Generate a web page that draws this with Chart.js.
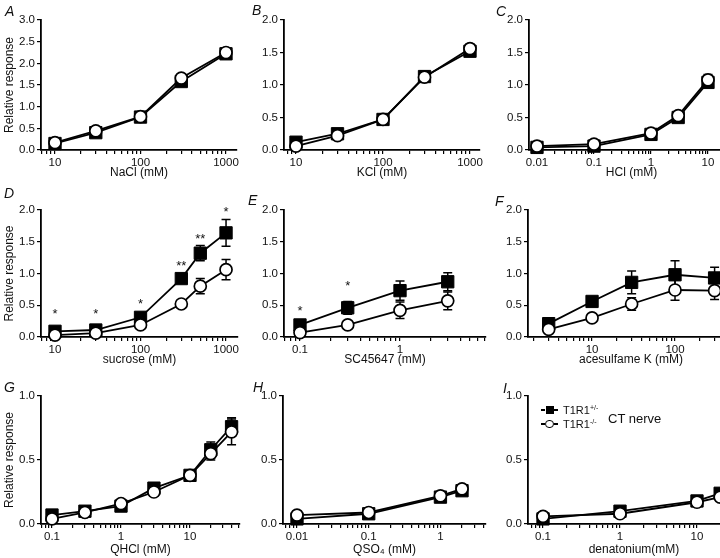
<!DOCTYPE html>
<html>
<head>
<meta charset="utf-8">
<script src="https://cdn.jsdelivr.net/npm/chart.js@4.4.1/dist/chart.umd.min.js"></script>
<style>
html,body{margin:0;padding:0;background:#fff;width:720px;height:558px;overflow:hidden;position:relative;
  font-family:"Liberation Sans",Arial,Helvetica,sans-serif;color:#111;}
canvas{position:absolute;}
.plbl{position:absolute;font-style:italic;font-size:14px;line-height:14px;white-space:nowrap;}
.abs{position:absolute;white-space:nowrap;}
.dash{position:absolute;height:1.6px;width:4px;background:#000;}
</style>
</head>
<body>
<script>
// ---------------- DATA ----------------
const seriesNames = ['T1R1+/-', 'T1R1-/-'];

// A: NaCl
const naclConc   = [10, 30, 100, 300, 1000];
const naclHet    = [0.15, 0.40, 0.76, 1.58, 2.22];
const naclHetSem = [0.04, 0.05, 0.05, 0.06, 0.10];
const naclKo     = [0.17, 0.44, 0.77, 1.66, 2.25];
const naclKoSem  = [0.04, 0.05, 0.04, 0.05, 0.10];

// B: KCl
const kclConc   = [10, 30, 100, 300, 1000];
const kclHet    = [0.12, 0.25, 0.47, 1.13, 1.52];
const kclHetSem = [0.03, 0.03, 0.04, 0.08, 0.08];
const kclKo     = [0.06, 0.22, 0.47, 1.12, 1.56];
const kclKoSem  = [0.05, 0.03, 0.04, 0.06, 0.07];

// C: HCl
const hclConc   = [0.01, 0.1, 1, 3, 10];
const hclHet    = [0.04, 0.06, 0.24, 0.50, 1.04];
const hclHetSem = [0.02, 0.02, 0.03, 0.06, 0.05];
const hclKo     = [0.06, 0.09, 0.26, 0.53, 1.08];
const hclKoSem  = [0.03, 0.04, 0.03, 0.05, 0.08];

// D: sucrose
const sucConc   = [10, 30, 100, 300, 500, 1000];
const sucHet    = [0.09, 0.11, 0.31, 0.92, 1.32, 1.64];
const sucHetSem = [0.03, 0.03, 0.05, 0.05, 0.12, 0.21];
const sucKo     = [0.03, 0.06, 0.19, 0.52, 0.80, 1.06];
const sucKoSem  = [0.03, 0.03, 0.04, 0.03, 0.12, 0.16];
const sucSigText = ['*', '*', '*', '**', '**', '*'];
const sucSigY    = [0.42, 0.41, 0.58, 1.17, 1.59, 2.03];

// E: SC45647
const scConc   = [0.1, 0.3, 1, 3];
const scHet    = [0.19, 0.46, 0.73, 0.87];
const scHetSem = [0.04, 0.10, 0.15, 0.14];
const scKo     = [0.07, 0.19, 0.42, 0.57];
const scKoSem  = [0.03, 0.04, 0.13, 0.14];
const scSigConc = [0.1, 0.3];
const scSigText = ['*', '*'];
const scSigY    = [0.47, 0.86];

// F: acesulfame K
const aceConc   = [3, 10, 30, 100, 300];
const aceHet    = [0.21, 0.56, 0.86, 0.98, 0.93];
const aceHetSem = [0.03, 0.05, 0.18, 0.22, 0.17];
const aceKo     = [0.12, 0.30, 0.52, 0.74, 0.73];
const aceKoSem  = [0.03, 0.03, 0.10, 0.16, 0.14];

// G: QHCl
const qhclConc   = [0.1, 0.3, 1, 3, 10, 20, 40];
const qhclHet    = [0.07, 0.10, 0.14, 0.28, 0.38, 0.58, 0.76];
const qhclHetSem = [0.02, 0.02, 0.02, 0.03, 0.02, 0.06, 0.07];
const qhclKo     = [0.04, 0.09, 0.16, 0.25, 0.38, 0.55, 0.72];
const qhclKoSem  = [0.03, 0.02, 0.02, 0.03, 0.03, 0.05, 0.10];

// H: QSO4
const qso4Conc   = [0.01, 0.1, 1, 2];
const qso4Het    = [0.04, 0.08, 0.21, 0.26];
const qso4HetSem = [0.02, 0.02, 0.02, 0.02];
const qso4Ko     = [0.07, 0.09, 0.22, 0.275];
const qso4KoSem  = [0.03, 0.02, 0.02, 0.02];

// I: denatonium
const denConc   = [0.1, 1, 10, 20];
const denHet    = [0.04, 0.10, 0.18, 0.24];
const denHetSem = [0.02, 0.02, 0.02, 0.02];
const denKo     = [0.06, 0.08, 0.17, 0.21];
const denKoSem  = [0.03, 0.02, 0.02, 0.02];

// tick labels
const xTicksMilli = ['10', '100', '1000'];
const xTicksHCl   = ['0.01', '0.1', '1', '10'];
const xTicksSC    = ['0.1', '1'];
const xTicksAce   = ['10', '100'];
const xTicksQHCl  = ['0.1', '1', '10'];
const xTicksQSO4  = ['0.01', '0.1', '1'];
const xTicksDen   = ['0.1', '1', '10'];
const yTicks3 = ['0.0', '0.5', '1.0', '1.5', '2.0', '2.5', '3.0'];
const yTicks2 = ['0.0', '0.5', '1.0', '1.5', '2.0'];
const yTicks1 = ['0.0', '0.5', '1.0'];

const yTitle = 'Relative response';

// ---------------- RENDERING ----------------
const FONT = '"Liberation Sans", Arial, Helvetica, sans-serif';
Chart.defaults.font.family = FONT;
Chart.defaults.color = '#111';

function logTicks(min, max) {
  const out = [];
  const e0 = Math.floor(Math.log10(min)), e1 = Math.ceil(Math.log10(max));
  for (let e = e0; e <= e1; e++) {
    for (let m = 1; m <= 9; m++) {
      const v = Number((m * Math.pow(10, e)).toPrecision(12));
      if (v >= min && v <= max) out.push({ value: v, major: m === 1 });
    }
  }
  return out;
}

function makeChart(p) {
  const yW = 40, padTop = 10, padRight = 20, xH = p.xH || 30;
  const w = (p.R - p.L) + yW + padRight, h = (p.B - p.T) + padTop + xH;
  const c = document.createElement('canvas');
  c.width = w; c.height = h;
  c.style.left = (p.L - yW) + 'px'; c.style.top = (p.T - padTop) + 'px';
  c.style.width = w + 'px'; c.style.height = h + 'px';
  document.body.appendChild(c);

  const majorVals = p.xLabels.map(Number);
  const yVals = p.yLabels.map(Number);

  const errorBars = {
    id: 'errorBars' + p.key,
    beforeDatasetsDraw(chart) {
      const { ctx, scales: { x, y } } = chart;
      ctx.save();
      ctx.strokeStyle = '#000';
      ctx.lineWidth = 1.5;
      chart.data.datasets.forEach(ds => {
        ds.data.forEach((pt, i) => {
          const e = ds.sem[i];
          const px = x.getPixelForValue(pt.x);
          const y1 = y.getPixelForValue(pt.y + e), y2 = y.getPixelForValue(pt.y - e);
          ctx.beginPath();
          ctx.moveTo(px, y1); ctx.lineTo(px, y2);
          ctx.moveTo(px - 4.5, y1); ctx.lineTo(px + 4.5, y1);
          ctx.moveTo(px - 4.5, y2); ctx.lineTo(px + 4.5, y2);
          ctx.stroke();
        });
      });
      ctx.restore();
    }
  };
  const sigMarks = {
    id: 'sig' + p.key,
    afterDatasetsDraw(chart) {
      if (!p.sig) return;
      const { ctx, scales: { x, y } } = chart;
      ctx.save();
      ctx.fillStyle = '#111';
      ctx.font = '13px ' + FONT;
      ctx.textAlign = 'center';
      ctx.textBaseline = 'alphabetic';
      p.sig.x.forEach((xv, i) => {
        ctx.fillText(p.sig.text[i], x.getPixelForValue(xv), y.getPixelForValue(p.sig.y[i]) + 0.57 * 13);
      });
      ctx.restore();
    }
  };

  new Chart(c, {
    type: 'line',
    data: {
      datasets: [
        { label: seriesNames[1], data: p.x.map((v, i) => ({ x: v, y: p.ko[i] })), sem: p.koSem,
          pointStyle: 'circle', pointRadius: 6, pointBackgroundColor: '#fff', pointBorderColor: '#000',
          pointBorderWidth: 1.7, borderColor: '#000', borderWidth: 1.8, fill: false, tension: 0, clip: false },
        { label: seriesNames[0], data: p.x.map((v, i) => ({ x: v, y: p.het[i] })), sem: p.hetSem,
          pointStyle: 'rect', pointRadius: 8.7, pointBackgroundColor: '#000', pointBorderColor: '#000',
          pointBorderWidth: 1, borderColor: '#000', borderWidth: 1.8, fill: false, tension: 0, clip: false }
      ]
    },
    options: {
      responsive: false, animation: false, events: [], devicePixelRatio: 1,
      layout: { padding: { top: padTop, right: padRight, left: 0, bottom: 0 } },
      plugins: { legend: { display: false }, tooltip: { enabled: false } },
      scales: {
        x: {
          type: 'logarithmic', position: 'bottom', min: p.xmin, max: p.xmax, bounds: 'data',
          afterBuildTicks: s => { s.ticks = logTicks(p.xmin, p.xmax); },
          afterFit: s => { s.height = xH; },
          ticks: {
            autoSkip: false, maxRotation: 0, minRotation: 0, padding: 2, color: '#111',
            font: { size: 11.5 },
            callback: (v, i, ticks) => {
              const k = majorVals.findIndex(m => Math.abs(m - v) / m < 1e-6);
              return k >= 0 ? p.xLabels[k] : '';
            }
          },
          grid: { display: true, drawOnChartArea: false, drawTicks: true, tickLength: 4, color: '#000', lineWidth: 1.2 },
          border: { display: true, color: '#000', width: 1.8 },
          title: { display: true, text: p.xTitle, color: '#111', font: { size: 12 }, padding: { top: 0, bottom: 0 } }
        },
        y: {
          type: 'linear', position: 'left', min: 0, max: yVals[yVals.length - 1],
          afterBuildTicks: s => { s.ticks = yVals.map(v => ({ value: v })); },
          afterFit: s => { s.width = yW; },
          ticks: {
            padding: 2, color: '#111', font: { size: 11.5 },
            callback: (v, i) => p.yLabels[i]
          },
          grid: { display: true, drawOnChartArea: false, drawTicks: true, tickLength: 4, color: '#000', lineWidth: 1.2 },
          border: { display: true, color: '#000', width: 1.8 },
          title: { display: !!p.yTitle, text: p.yTitle || '', color: '#111', font: { size: 12 }, padding: { top: 1, bottom: 0 } }
        }
      }
    },
    plugins: [errorBars, sigMarks]
  });
}

const panels = [
  { key: 'A', L: 41, T: 20, R: 237, B: 150, xmin: 6.86, xmax: 1345, x: naclConc, het: naclHet, hetSem: naclHetSem, ko: naclKo, koSem: naclKoSem,
    xLabels: xTicksMilli, yLabels: yTicks3, xTitle: 'NaCl (mM)', yTitle: yTitle },
  { key: 'B', L: 284, T: 20, R: 480, B: 150, xmin: 7.28, xmax: 1303, x: kclConc, het: kclHet, hetSem: kclHetSem, ko: kclKo, koSem: kclKoSem,
    xLabels: xTicksMilli, yLabels: yTicks2, xTitle: 'KCl (mM)' },
  { key: 'C', L: 529, T: 20, R: 734, B: 150, xmin: 0.00724, xmax: 28.6, x: hclConc, het: hclHet, hetSem: hclHetSem, ko: hclKo, koSem: hclKoSem,
    xLabels: xTicksHCl, yLabels: yTicks2, xTitle: 'HCl (mM)' },
  { key: 'D', L: 41, T: 210, R: 238, B: 337, xmin: 6.86, xmax: 1380, x: sucConc, het: sucHet, hetSem: sucHetSem, ko: sucKo, koSem: sucKoSem,
    xLabels: xTicksMilli, yLabels: yTicks2, xTitle: 'sucrose (mM)', yTitle: yTitle,
    sig: { x: sucConc, text: sucSigText, y: sucSigY } },
  { key: 'E', L: 284, T: 210, R: 486, B: 337, xmin: 0.0692, xmax: 7.24, x: scConc, het: scHet, hetSem: scHetSem, ko: scKo, koSem: scKoSem,
    xLabels: xTicksSC, yLabels: yTicks2, xTitle: 'SC45647 (mM)',
    sig: { x: scSigConc, text: scSigText, y: scSigY } },
  { key: 'F', L: 528, T: 210, R: 734, B: 337, xmin: 1.69, xmax: 514, x: aceConc, het: aceHet, hetSem: aceHetSem, ko: aceKo, koSem: aceKoSem,
    xLabels: xTicksAce, yLabels: yTicks2, xTitle: 'acesulfame K (mM)' },
  { key: 'G', L: 41, T: 396, R: 240, B: 524, xH: 33, xmin: 0.0693, xmax: 53, x: qhclConc, het: qhclHet, hetSem: qhclHetSem, ko: qhclKo, koSem: qhclKoSem,
    xLabels: xTicksQHCl, yLabels: yTicks1, xTitle: 'QHCl (mM)', yTitle: yTitle },
  { key: 'H', L: 283, T: 396, R: 486, B: 524, xH: 33, xmin: 0.00638, xmax: 4.32, x: qso4Conc, het: qso4Het, hetSem: qso4HetSem, ko: qso4Ko, koSem: qso4KoSem,
    xLabels: xTicksQSO4, yLabels: yTicks1, xTitle: 'QSO\u2084 (mM)' },
  { key: 'I', L: 528, T: 396, R: 740, B: 524, xH: 33, xmin: 0.0638, xmax: 36.2, x: denConc, het: denHet, hetSem: denHetSem, ko: denKo, koSem: denKoSem,
    xLabels: xTicksDen, yLabels: yTicks1, xTitle: 'denatonium(mM)' }
];
panels.forEach(makeChart);

// panel letters
const letterPos = { A: [5, 4], B: [252, 3], C: [496, 4], D: [4, 186], E: [248, 193], F: [495, 194], G: [4, 380], H: [253, 380], I: [503, 381] };
Object.keys(letterPos).forEach(k => {
  const d = document.createElement('div');
  d.className = 'plbl'; d.textContent = k;
  d.style.left = letterPos[k][0] + 'px'; d.style.top = letterPos[k][1] + 'px';
  document.body.appendChild(d);
});

// legend (panel I)
function addEl(cls, css, html) {
  const d = document.createElement('div');
  d.className = cls; Object.assign(d.style, css);
  if (html) d.innerHTML = html;
  document.body.appendChild(d);
  return d;
}
// row 1: filled square
addEl('dash', { left: '541px', top: '409.2px' });
addEl('abs', { left: '545.5px', top: '406px', width: '8px', height: '8px', background: '#000' });
addEl('dash', { left: '554px', top: '409.2px' });
addEl('abs', { left: '563px', top: '403.6px', fontSize: '11px', lineHeight: '13px' },
  'T1R1<span style="font-size:7px;position:relative;top:-4px;">+/-</span>');
// row 2: open circle
addEl('dash', { left: '541px', top: '423.2px' });
addEl('abs', { left: '545px', top: '419.5px', width: '6.6px', height: '6.6px', border: '1.4px solid #000', borderRadius: '50%', background: '#fff' });
addEl('dash', { left: '554px', top: '423.2px' });
addEl('abs', { left: '563px', top: '417.6px', fontSize: '11px', lineHeight: '13px' },
  'T1R1<span style="font-size:7px;position:relative;top:-4px;">-/-</span>');
addEl('abs', { left: '608px', top: '410.6px', fontSize: '13px', lineHeight: '15px' }, 'CT nerve');
</script>
</body>
</html>
